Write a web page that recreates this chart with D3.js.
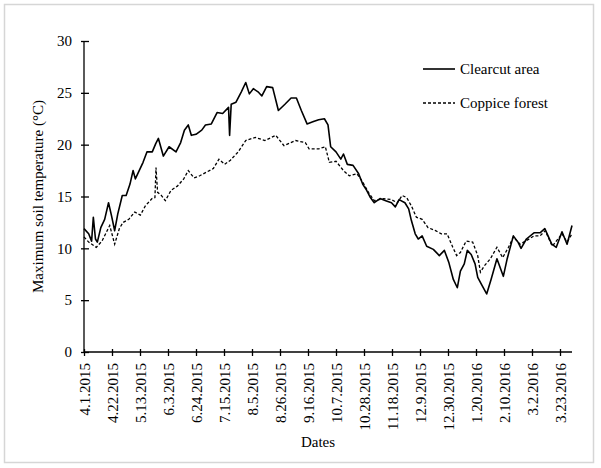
<!DOCTYPE html>
<html>
<head>
<meta charset="utf-8">
<script src="https://cdn.jsdelivr.net/npm/d3@7"></script>
<style>
  body { margin: 0; background: #fff; }
  text { font-family: "Liberation Serif", "Times New Roman", serif; fill: #000; }
</style>
</head>
<body>
<script>
const width = 601;
const height = 468;

// days counted from 4.1.2015
const startDate = new Date(2015, 3, 1);

const clearDays = [0, 3.5, 5.7, 7, 8.6, 10, 12.6, 15.5, 18.4, 20.7, 23, 25.3, 28.7, 31.6, 34.5, 36.8, 38.5, 41.4, 44.3, 47.2, 51.2, 53.8, 55.8, 59.5, 63.8, 69, 72.5, 75.3, 78.2, 80.5, 84, 88.3, 91.1, 95.5, 99.8, 104, 108.4, 109.2, 110.4, 114, 118, 121.3, 124, 127, 130.5, 133.4, 137, 141.5, 145.8, 150.7, 155.3, 159.3, 163, 167.3, 171.6, 176, 180.3, 183, 185, 189, 192.6, 194.6, 197.5, 201.8, 206, 209, 212, 214.8, 217.7, 222, 226.3, 230.6, 233.5, 236.3, 240.7, 243.5, 245.5, 248.4, 250.7, 253.6, 257, 262, 266.5, 270.3, 273.7, 277, 280, 282.3, 285.2, 287.5, 290.4, 293.3, 295.3, 298.2, 302, 305.3, 309.7, 312.5, 314.5, 317.4, 322, 325.5, 327.8, 331.8, 337.5, 342, 345.6, 350.8, 354.2, 358.5, 362.3, 366];
const clearTemps = [11.9, 11.4, 10.7, 13.0, 10.9, 10.6, 12.0, 12.8, 14.4, 13.1, 11.7, 13.3, 15.1, 15.1, 16.2, 17.5, 16.7, 17.5, 18.3, 19.3, 19.3, 20.1, 20.6, 18.9, 19.8, 19.3, 20.2, 21.4, 21.9, 20.9, 21.0, 21.4, 21.9, 22.0, 23.1, 23.0, 23.6, 20.9, 23.9, 24.1, 25.1, 26.0, 24.9, 25.4, 25.1, 24.7, 25.6, 25.5, 23.3, 23.9, 24.5, 24.5, 23.3, 22.0, 22.2, 22.4, 22.5, 21.9, 19.8, 19.3, 18.6, 19.1, 18.1, 18.0, 17.2, 16.2, 15.6, 14.9, 14.4, 14.8, 14.6, 14.4, 14.0, 14.7, 14.4, 13.8, 12.7, 11.4, 10.9, 11.2, 10.2, 9.9, 9.3, 9.8, 8.6, 7.0, 6.2, 7.8, 8.5, 9.8, 9.4, 8.5, 7.2, 6.5, 5.6, 7.0, 9.0, 8.0, 7.3, 9.0, 11.2, 10.6, 10.0, 10.9, 11.5, 11.5, 11.9, 10.4, 10.1, 11.6, 10.4, 12.2];

const coppDays = [0, 3.5, 9.2, 13.5, 19.3, 23, 26.5, 29.3, 33.6, 38, 42.3, 46, 51, 53.2, 54, 55.2, 58, 61, 65.3, 70, 74.8, 78.2, 82.5, 86.8, 92.6, 97, 101.2, 105.5, 109.8, 115.6, 121.3, 128.5, 135.7, 143.8, 150, 158.7, 166, 168.8, 176, 181, 184, 189, 194.6, 199, 204.7, 209, 213.3, 217.7, 224.8, 230.6, 235, 238.6, 242, 245.5, 249.3, 253.6, 258, 263.7, 268, 272.3, 276.6, 279.5, 282.3, 286.6, 291.5, 295.3, 297.3, 300.2, 304.8, 309.7, 314, 318.4, 322, 327, 331.2, 337.5, 342, 346, 351.2, 358.5, 362.3, 366];
const coppTemps = [11.1, 10.6, 10.1, 10.7, 12.2, 10.4, 11.9, 12.5, 12.8, 13.5, 13.2, 14.1, 14.8, 14.9, 17.8, 15.4, 15.1, 14.6, 15.6, 16.0, 16.7, 17.5, 16.8, 17.0, 17.4, 17.7, 18.6, 18.1, 18.5, 19.3, 20.4, 20.7, 20.4, 20.9, 19.9, 20.4, 20.2, 19.6, 19.6, 19.8, 18.3, 18.4, 17.5, 17.0, 17.2, 16.4, 15.4, 14.6, 14.8, 14.7, 14.4, 15.1, 14.9, 14.1, 13.0, 12.8, 12.0, 11.7, 11.4, 11.4, 10.1, 9.3, 9.6, 10.7, 10.6, 9.3, 7.7, 8.3, 9.0, 10.1, 9.1, 10.1, 11.1, 10.4, 10.7, 11.2, 11.2, 11.7, 10.2, 11.4, 10.6, 11.4];

const yTicks = [0, 5, 10, 15, 20, 25, 30];
const tickDates = ["4.1.2015", "4.22.2015", "5.13.2015", "6.3.2015", "6.24.2015", "7.15.2015", "8.5.2015", "8.26.2015", "9.16.2015", "10.7.2015", "10.28.2015", "11.18.2015", "12.9.2015", "12.30.2015", "1.20.2016", "2.10.2016", "3.2.2016", "3.23.2016"];

const margin = { top: 41, right: 29, bottom: 116, left: 84 };

const toDate = (d) => new Date(startDate.getTime() + d * 864e5);
const parseTick = d3.timeParse("%m.%d.%Y");

const clearData = clearDays.map((d, i) => ({ date: toDate(d), value: clearTemps[i] }));
const coppData = coppDays.map((d, i) => ({ date: toDate(d), value: coppTemps[i] }));

const svg = d3.select("body").append("svg")
  .attr("width", width)
  .attr("height", height);

// faint frame around the figure
svg.append("rect")
  .attr("x", 4.5).attr("y", 4.5)
  .attr("width", 589).attr("height", 458)
  .attr("fill", "none")
  .attr("stroke", "#d6d6d6")
  .attr("stroke-width", 1.5);

const x = d3.scaleTime()
  .domain([startDate, toDate(366)])
  .range([margin.left, width - margin.right]);

const y = d3.scaleLinear()
  .domain([0, 30])
  .range([height - margin.bottom, margin.top]);

const yAxis = svg.append("g")
  .attr("transform", `translate(${margin.left},0)`)
  .call(d3.axisLeft(y).tickValues(yTicks).tickSize(3).tickPadding(9));

yAxis.selectAll(".tick line").attr("x2", 5).attr("x1", -3);

const xAxis = svg.append("g")
  .attr("transform", `translate(0,${height - margin.bottom})`)
  .call(d3.axisBottom(x)
    .tickValues(tickDates.map(parseTick))
    .tickFormat(d3.timeFormat("%-m.%-d.%Y"))
    .tickSize(4));

xAxis.selectAll(".tick line").attr("y1", -3).attr("y2", 4);

xAxis.selectAll(".tick text")
  .attr("transform", "rotate(-90)")
  .attr("text-anchor", "end")
  .attr("x", -11)
  .attr("y", 0)
  .attr("dy", "0.35em");

[yAxis, xAxis].forEach((g) => {
  g.select(".domain").attr("stroke", "#000").attr("stroke-width", 1.3);
  g.selectAll(".tick line").attr("stroke", "#000").attr("stroke-width", 1.3);
  g.selectAll(".tick text")
    .style("font-family", "'Liberation Serif', serif")
    .style("font-size", "15px")
    .attr("fill", "#000");
});
// no end caps on the axis lines
yAxis.select(".domain").attr("d", `M0,${y(30)}V${y(0)}`);
xAxis.select(".domain").attr("d", `M${x.range()[0]},0H${x.range()[1]}`);

const line = d3.line()
  .x((d) => x(d.date))
  .y((d) => y(d.value));

svg.append("path")
  .datum(coppData)
  .attr("fill", "none")
  .attr("stroke", "#000")
  .attr("stroke-width", 1.3)
  .attr("stroke-dasharray", "3,2")
  .attr("d", line);

svg.append("path")
  .datum(clearData)
  .attr("fill", "none")
  .attr("stroke", "#000")
  .attr("stroke-width", 1.6)
  .attr("stroke-linejoin", "round")
  .attr("d", line);

// legend
const legend = svg.append("g").attr("transform", "translate(423,69)");
legend.append("line")
  .attr("x1", 0).attr("x2", 32)
  .attr("stroke", "#000").attr("stroke-width", 1.6);
legend.append("text")
  .attr("x", 37).attr("dy", "0.35em")
  .style("font-size", "15px")
  .text("Clearcut area");
legend.append("line")
  .attr("x1", 0).attr("x2", 32).attr("y1", 34).attr("y2", 34)
  .attr("stroke", "#000").attr("stroke-width", 1.3)
  .attr("stroke-dasharray", "3,2");
legend.append("text")
  .attr("x", 37).attr("y", 34).attr("dy", "0.35em")
  .style("font-size", "15px")
  .text("Coppice forest");

svg.append("text")
  .attr("x", 318)
  .attr("y", 447)
  .attr("text-anchor", "middle")
  .style("font-size", "15px")
  .text("Dates");

svg.append("text")
  .attr("transform", `translate(43,${(y(0) + y(30)) / 2}) rotate(-90)`)
  .attr("text-anchor", "middle")
  .style("font-size", "15px")
  .text("Maximum soil temperature (°C)");
</script>
</body>
</html>
